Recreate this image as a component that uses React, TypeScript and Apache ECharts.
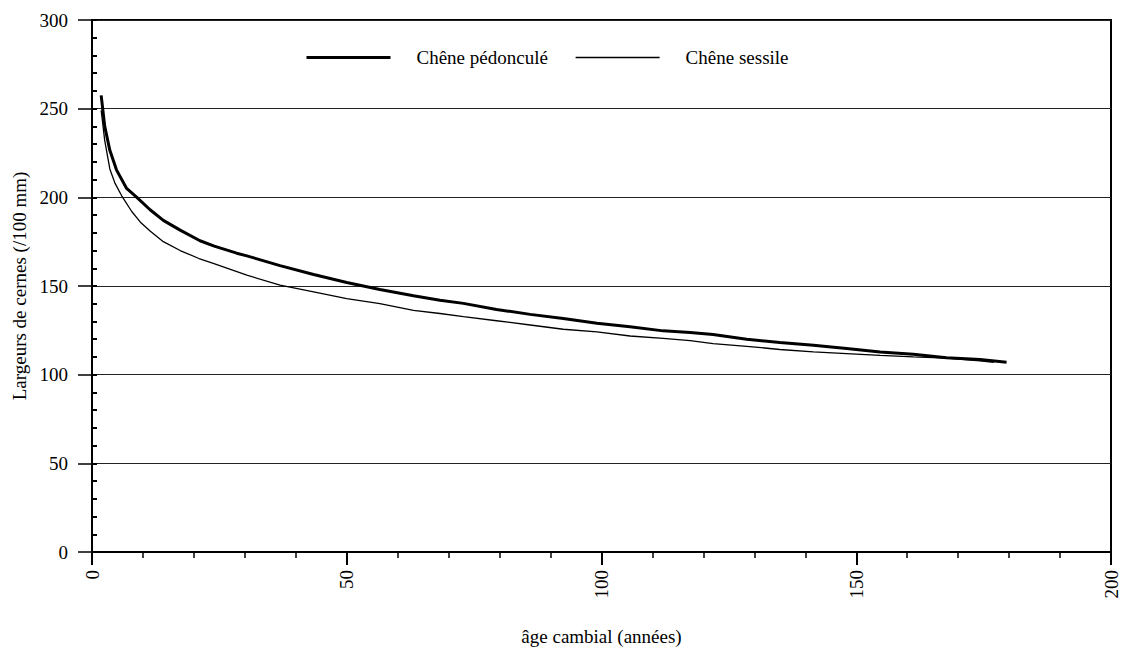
import React, { useEffect, useRef } from "react";
import * as echarts from "echarts";

const pedAge = [1.8, 2.5, 3.5, 4.8, 6.8, 8.8, 11.4, 14, 17.3, 21.2, 24, 28.4, 30.4, 36.9, 43.5, 50, 56.5, 63.1, 68.3, 72.9, 79.4, 86, 92.5, 99.1, 105.6, 112.1, 117.4, 121.9, 128.5, 135, 141.6, 148.1, 154.7, 161.2, 167.7, 174.3, 179.5];
const pedVal = [257.5, 240, 226.5, 215.5, 205, 200, 193, 187, 181.5, 175.5, 172.5, 168.5, 167, 161.5, 156.5, 152, 148, 144.5, 142, 140.2, 136.8, 134, 131.7, 129, 127, 124.7, 123.8, 122.6, 120, 118.1, 116.6, 114.7, 112.8, 111.5, 109.6, 108.5, 107];

const sesAge = [1.8, 2.5, 3.5, 4.5, 5.8, 7.8, 9.5, 11.4, 14, 17.3, 21, 23.8, 30.4, 36.9, 43.5, 50, 56.5, 63.1, 68.3, 72.9, 79.4, 86, 92.5, 99.1, 105.6, 112.1, 117.4, 121.9, 128.5, 135, 141.6, 148.1, 154.7, 161.2, 167.7, 174.3, 177];
const sesVal = [249, 232, 216, 208, 201, 192, 186, 181, 175, 170, 165.5, 162.7, 156.1, 150.5, 146.7, 142.9, 140.1, 136.3, 134.5, 132.7, 130.4, 128, 125.6, 124.1, 121.8, 120.5, 119.2, 117.5, 116, 114.2, 112.8, 111.9, 110.9, 110, 109.4, 107.8, 107];

const seriesNames = ["Chêne pédonculé", "Chêne sessile"];
const xTitle = "âge cambial (années)";
const yTitle = "Largeurs de cernes (/100 mm)";

const FONT = "'Liberation Serif', 'Times New Roman', serif";
const FS = 19;

export default function App() {
  const ref = useRef<HTMLDivElement>(null);
  useEffect(() => {
    if (!ref.current) return;
    const chart = echarts.init(ref.current, undefined, { renderer: "svg" });
    const pairs = (a: number[], v: number[]) => a.map((x, i) => [x, v[i]]);
    chart.setOption({
      animation: false,
      backgroundColor: "#fff",
      textStyle: { fontFamily: FONT, color: "#000" },
      grid: {
        left: 92,
        right: 15,
        top: 20,
        bottom: 100,
        show: true,
        borderColor: "#000",
        borderWidth: 2,
        backgroundColor: "transparent",
      },
      legend: {
        left: 305,
        top: 48,
        padding: 0,
        itemWidth: 84,
        itemHeight: 14,
        itemGap: 27,
        itemStyle: { color: "rgba(0,0,0,0)", borderWidth: 0, opacity: 0 },
        textStyle: { fontFamily: FONT, fontSize: FS, color: "#000", padding: [0, 0, 0, 21] },
        data: [
          { name: seriesNames[0], lineStyle: { width: 3, color: "#000" } },
          { name: seriesNames[1], lineStyle: { width: 1.5, color: "#000" } },
        ],
      },
      xAxis: {
        type: "value",
        min: 0,
        max: 200,
        interval: 50,
        name: xTitle,
        nameLocation: "middle",
        nameGap: 75,
        nameTextStyle: { fontFamily: FONT, fontSize: FS, color: "#000" },
        axisLine: { show: true, lineStyle: { color: "#000", width: 2 } },
        axisTick: { show: true, length: 13, lineStyle: { color: "#000", width: 2 } },
        minorTick: { show: true, splitNumber: 5, length: 6, lineStyle: { color: "#000", width: 1.5 } },
        axisLabel: { rotate: 90, margin: 18, fontFamily: FONT, fontSize: FS, color: "#000" },
        splitLine: { show: false },
      },
      yAxis: [
        {
          type: "value",
          min: 0,
          max: 300,
          interval: 50,
          name: yTitle,
          nameLocation: "middle",
          nameGap: 62,
          nameTextStyle: { fontFamily: FONT, fontSize: FS, color: "#000" },
          axisLine: { show: true, lineStyle: { color: "#000", width: 2 } },
          axisTick: { show: true, length: 14, lineStyle: { color: "#000", width: 1.5 } },
          axisLabel: { margin: 24, fontFamily: FONT, fontSize: FS, color: "#000" },
          splitLine: { show: true, lineStyle: { color: "#222", width: 1 } },
        },
        {
          type: "value",
          position: "left",
          min: 0,
          max: 300,
          interval: 10,
          axisLine: { show: false },
          axisTick: { show: true, inside: true, length: 5, lineStyle: { color: "#000", width: 2 } },
          axisLabel: { show: false },
          splitLine: { show: false },
        },
      ],
      series: [
        {
          name: seriesNames[0],
          type: "line",
          data: pairs(pedAge, pedVal),
          showSymbol: false,
          symbol: "none",
          lineStyle: { color: "#000", width: 3 },
          itemStyle: { color: "#000" },
        },
        {
          name: seriesNames[1],
          type: "line",
          data: pairs(sesAge, sesVal),
          showSymbol: false,
          symbol: "none",
          lineStyle: { color: "#000", width: 1.3 },
          itemStyle: { color: "#000" },
        },
      ],
    });
    return () => chart.dispose();
  }, []);
  return (
    <div
      ref={ref}
      style={{ position: "fixed", left: 0, top: 0, width: 1126, height: 652 }}
    />
  );
}
